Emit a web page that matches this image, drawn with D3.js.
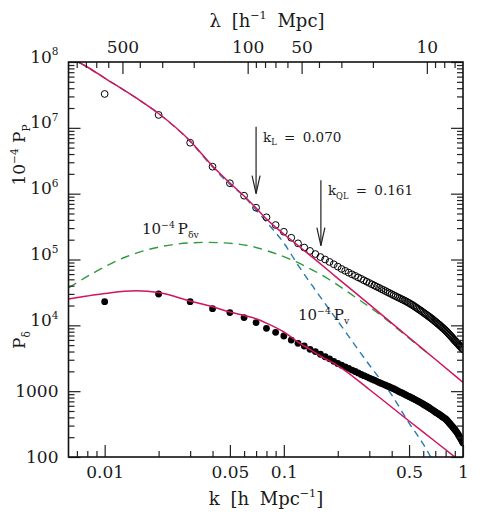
<!DOCTYPE html>
<html>
<head>
<meta charset="utf-8">
<script src="https://cdn.jsdelivr.net/npm/d3@7"></script>
<style>
  body { margin: 0; background: #fff; }
  svg { display: block; }
  text { font-family: "DejaVu Serif", serif; fill: #1a1a1a; }
</style>
</head>
<body>
<div id="chart"></div>
<script>
// measured k grid (h/Mpc)
var kGrid = [0.01,0.02,0.03,0.04,0.05,0.06,0.07,0.08,0.09,0.10,
  0.11,0.12,0.13,0.14,0.15,0.16,0.17,0.18,0.19,0.20,
  0.21,0.22,0.23,0.24,0.25,0.26,0.27,0.28,0.29,0.30,
  0.31,0.32,0.33,0.34,0.35,0.36,0.37,0.38,0.39,0.40,
  0.41,0.42,0.43,0.44,0.45,0.46,0.47,0.48,0.49,0.50,
  0.51,0.52,0.53,0.54,0.55,0.56,0.57,0.58,0.59,0.60,
  0.61,0.62,0.63,0.64,0.65,0.66,0.67,0.68,0.69,0.70,
  0.71,0.72,0.73,0.74,0.75,0.76,0.77,0.78,0.79,0.80,
  0.81,0.82,0.83,0.84,0.85,0.86,0.87,0.88,0.89,0.90,
  0.91,0.92,0.93,0.94,0.95,0.96,0.97,0.98,0.99,1.00];

// 10^-4 P_P (open circles)
var pMomentum = [3.27e7,1.57e7,5.94e6,2.57e6,1.44e6,9.31e5,6.12e5,4.38e5,3.34e5,2.64e5,
  2.14e5,1.76e5,1.52e5,1.35e5,1.21e5,1.09e5,1.00e5,9.18e4,8.47e4,7.80e4,
  7.19e4,6.73e4,6.32e4,5.96e4,5.65e4,5.35e4,5.09e4,4.83e4,4.60e4,4.40e4,
  4.20e4,4.03e4,3.86e4,3.72e4,3.56e4,3.44e4,3.31e4,3.18e4,3.08e4,2.97e4,
  2.87e4,2.78e4,2.69e4,2.61e4,2.53e4,2.46e4,2.39e4,2.32e4,2.25e4,2.18e4,
  2.11e4,2.05e4,1.98e4,1.91e4,1.85e4,1.79e4,1.73e4,1.68e4,1.62e4,1.57e4,
  1.52e4,1.47e4,1.43e4,1.38e4,1.34e4,1.30e4,1.26e4,1.22e4,1.18e4,1.14e4,
  1.11e4,1.07e4,1.04e4,1.01e4,9770,9460,9160,8890,8610,8340,
  8050,7780,7500,7240,7000,6760,6530,6300,6080,5870,
  5690,5520,5350,5190,5020,4860,4720,4570,4440,4300];

// P_delta (filled circles)
var pDensity = [2.29e4,2.99e4,2.29e4,1.79e4,1.56e4,1.31e4,1.10e4,9010,7830,6890,
  5980,5330,4850,4320,4000,3640,3330,3100,2840,2640,
  2480,2340,2220,2090,1990,1890,1790,1720,1650,1580,
  1520,1470,1410,1360,1310,1270,1230,1190,1160,1120,
  1090,1050,1020,984,957,931,902,877,849,830,
  807,787,766,745,726,706,689,670,653,635,
  618,601,586,570,555,540,526,512,498,484,
  472,460,450,439,428,417,406,397,387,378,
  365,352,339,327,315,303,292,281,271,261,
  251,241,231,220,210,200,191,181,172,163];

// model curves
var modelMomK = [0.00628,0.008,0.01,0.015,0.02,0.03,0.04,0.05,0.06,0.07,0.08,0.1,0.12,0.15,0.2,0.3,0.5,0.7,1.0];
var modelMomP = [1.19e8,8.40e7,5.71e7,2.84e7,1.65e7,6.31e6,2.63e6,1.45e6,9.21e5,6.05e5,4.12e5,2.44e5,1.63e5,9.93e4,5.18e4,2.08e4,6530,3050,1360];

var modelDenK = [0.00628,0.008,0.01,0.015,0.02,0.03,0.04,0.05,0.06,0.07,0.08,0.1,0.12,0.14,0.16,0.2,0.3,0.5,0.7,1.0];
var modelDenP = [2.51e4,2.79e4,3.04e4,3.34e4,3.15e4,2.34e4,1.92e4,1.59e4,1.41e4,1.26e4,1.08e4,7920,5580,4300,3420,2450,1060,352,172,80];

var velK = [0.00628,0.008,0.01,0.015,0.02,0.03,0.04,0.05,0.06,0.07,0.08,0.1,0.12,0.15,0.2,0.3,0.4,0.5,0.6,0.68];
var velP = [1.19e8,8.40e7,5.71e7,2.84e7,1.65e7,6.2e6,2.54e6,1.38e6,9.06e5,5.65e5,3.71e5,1.78e5,8.24e4,3.44e4,1.16e4,2500,875,328,157,87];

var crossK = [0.00628,0.0087,0.0132,0.0204,0.0313,0.037,0.0441,0.0677,0.0838,0.111,0.181,0.25,0.358,0.475,0.638];
var crossP = [3.69e4,6.30e4,1.10e5,1.56e5,1.80e5,1.82e5,1.80e5,1.56e5,1.31e5,9.82e4,4.88e4,2.69e4,1.34e4,7130,3730];

// arrows: scale marks
var arrowK = [0.070, 0.161];
var arrowTop = [1.04e7, 1.6e6];
var arrowTip = [1.0e6, 1.62e5];
var arrowSub = ["L", "QL"];

var yMajor = [100, 1000, 1e4, 1e5, 1e6, 1e7, 1e8];
var kMajor = [0.01, 0.05, 0.1, 0.5, 1];
var kMinor = [0.007,0.008,0.009,0.02,0.03,0.04,0.06,0.07,0.08,0.09,0.2,0.3,0.4,0.6,0.7,0.8,0.9];
var lamMajor = [500, 100, 50, 10];
var lamMinor = [900,800,700,600,400,300,200,90,80,70,60,40,30,20,9,8,7];

var W = 480, H = 515;
var X0 = 68.5, X1 = 463, Y0 = 62, Y1 = 457;
var RED = "#d0145f", BLUE = "#2b7bb0", GREEN = "#2f9a3c";

var svg = d3.select("#chart").append("svg").attr("width", W).attr("height", H);

var x = d3.scaleLog().domain([2 * Math.PI / 1000, 1]).range([X0, X1]);
var lam = d3.scaleLog().domain([1000, 2 * Math.PI]).range([X0, X1]);
var y = d3.scaleLog().domain([100, 1e8]).range([Y1, Y0]);

var yMinor = [];
yMajor.slice(0, -1).forEach(function(d) {
  for (var m = 2; m < 10; m++) yMinor.push(d * m);
});

// superscript / subscript helper
function rich(sel, parts, size) {
  var off = 0;
  parts.forEach(function(p) {
    var target = p[1] === "sup" ? -0.42 * size : p[1] === "sub" ? 0.28 * size : 0;
    var ts = sel.append("tspan").attr("dy", target - off).text(p[0]);
    if (p[1]) ts.attr("font-size", size * 0.62);
    off = target;
  });
}

svg.append("clipPath").attr("id", "clip")
  .append("rect").attr("x", X0).attr("y", Y0).attr("width", X1 - X0).attr("height", Y1 - Y0);

var plot = svg.append("g").attr("clip-path", "url(#clip)");

var line = d3.line()
  .x(function(d) { return x(d[0]); })
  .y(function(d) { return y(d[1]); })
  .curve(d3.curveMonotoneX);

function zip(a, b) { return a.map(function(v, i) { return [v, b[i]]; }); }

plot.append("path").datum(zip(crossK, crossP))
  .attr("d", line).attr("fill", "none").attr("stroke", GREEN)
  .attr("stroke-width", 1.4).attr("stroke-dasharray", "9,6");

plot.append("path").datum(zip(velK, velP))
  .attr("d", line).attr("fill", "none").attr("stroke", BLUE)
  .attr("stroke-width", 1.4).attr("stroke-dasharray", "7,5");

plot.selectAll("circle.den").data(zip(kGrid, pDensity)).enter()
  .append("circle").attr("class", "den")
  .attr("cx", function(d) { return x(d[0]); })
  .attr("cy", function(d) { return y(d[1]); })
  .attr("r", 3.4).attr("fill", "#000");

plot.selectAll("circle.mom").data(zip(kGrid, pMomentum)).enter()
  .append("circle").attr("class", "mom")
  .attr("cx", function(d) { return x(d[0]); })
  .attr("cy", function(d) { return y(d[1]); })
  .attr("r", 3.4).attr("fill", "none").attr("stroke", "#000").attr("stroke-width", 1);

plot.append("path").datum(zip(modelMomK, modelMomP))
  .attr("d", line).attr("fill", "none").attr("stroke", RED).attr("stroke-width", 1.5);

plot.append("path").datum(zip(modelDenK, modelDenP))
  .attr("d", line).attr("fill", "none").attr("stroke", RED).attr("stroke-width", 1.5);

// axes (ticks point inward on all four sides)
function styleAxis(g) {
  g.select(".domain").remove();
  g.selectAll(".tick line").attr("stroke", "#222").attr("stroke-width", 1.2);
  g.selectAll("text").attr("font-family", "DejaVu Serif").attr("font-size", 17).attr("fill", "#1a1a1a");
}

svg.append("g").attr("transform", "translate(0," + Y1 + ")")
  .call(d3.axisBottom(x).tickValues(kMajor).tickSize(-12).tickPadding(9)
    .tickFormat(function(d) { return String(d); }))
  .call(styleAxis);
svg.append("g").attr("transform", "translate(0," + Y1 + ")")
  .call(d3.axisBottom(x).tickValues(kMinor).tickSize(-6).tickFormat(""))
  .call(styleAxis);

svg.append("g").attr("transform", "translate(0," + Y0 + ")")
  .call(d3.axisTop(lam).tickValues(lamMajor).tickSize(-12).tickPadding(9)
    .tickFormat(function(d) { return String(d); }))
  .call(styleAxis);
svg.append("g").attr("transform", "translate(0," + Y0 + ")")
  .call(d3.axisTop(lam).tickValues(lamMinor).tickSize(-6).tickFormat(""))
  .call(styleAxis);

var leftMajor = svg.append("g").attr("transform", "translate(" + X0 + ",0)")
  .call(d3.axisLeft(y).tickValues(yMajor).tickSize(-12).tickPadding(10).tickFormat(""))
  .call(styleAxis);
leftMajor.selectAll(".tick text").each(function(d) {
  var t = d3.select(this);
  var e = Math.round(Math.log10(d));
  if (e <= 3) t.text(String(d));
  else rich(t, [["10", null], [String(e), "sup"]], 17);
});
svg.append("g").attr("transform", "translate(" + X0 + ",0)")
  .call(d3.axisLeft(y).tickValues(yMinor).tickSize(-6).tickFormat(""))
  .call(styleAxis);
svg.append("g").attr("transform", "translate(" + X1 + ",0)")
  .call(d3.axisRight(y).tickValues(yMajor).tickSize(-12).tickFormat(""))
  .call(styleAxis);
svg.append("g").attr("transform", "translate(" + X1 + ",0)")
  .call(d3.axisRight(y).tickValues(yMinor).tickSize(-6).tickFormat(""))
  .call(styleAxis);

svg.append("rect").attr("x", X0).attr("y", Y0).attr("width", X1 - X0).attr("height", Y1 - Y0)
  .attr("fill", "none").attr("stroke", "#111").attr("stroke-width", 1.6);

// arrows for k_L and k_QL
arrowK.forEach(function(k, i) {
  var ax = x(k), yt = y(arrowTop[i]), yb = y(arrowTip[i]);
  var g = svg.append("g").attr("stroke", "#222").attr("stroke-width", 1.2).attr("fill", "none");
  g.append("line").attr("x1", ax).attr("x2", ax).attr("y1", yt).attr("y2", yb);
  g.append("path").attr("d", "M" + (ax - 4) + "," + (yb - 18) + "L" + ax + "," + yb + "L" + (ax + 4) + "," + (yb - 18));
  var t = svg.append("text").attr("x", ax + 7).attr("y", yt + 15).attr("font-size", 13.5)
    .style("word-spacing", "3px");
  rich(t, [["k", null], [arrowSub[i], "sub"], [" = " + k.toFixed(3), null]], 13.5);
});

// curve labels
var t1 = svg.append("text").attr("x", 142).attr("y", 234).attr("font-size", 15);
rich(t1, [["10", null], ["\u22124", "sup"], ["\u2009P", null], ["\u03b4v", "sub"]], 15);
var t2 = svg.append("text").attr("x", 298).attr("y", 320).attr("font-size", 15);
rich(t2, [["10", null], ["\u22124", "sup"], ["\u2009P", null], ["v", "sub"]], 15);

// axis titles
var tt = svg.append("text").attr("x", 267).attr("y", 27).attr("text-anchor", "middle")
  .attr("font-size", 18).style("word-spacing", "5px");
rich(tt, [["\u03bb [h", null], ["\u22121", "sup"], [" Mpc]", null]], 18);

var bt = svg.append("text").attr("x", 266).attr("y", 505).attr("text-anchor", "middle")
  .attr("font-size", 18).style("word-spacing", "5px");
rich(bt, [["k [h Mpc", null], ["\u22121", "sup"], ["]", null]], 18);

var yl1 = svg.append("text").attr("transform", "translate(25,155) rotate(-90)")
  .attr("text-anchor", "middle").attr("font-size", 17);
rich(yl1, [["10", null], ["\u22124", "sup"], [" P", null], ["P", "sub"]], 17);

var yl2 = svg.append("text").attr("transform", "translate(25,340) rotate(-90)")
  .attr("text-anchor", "middle").attr("font-size", 17);
rich(yl2, [["P", null], ["\u03b4", "sub"]], 17);
</script>
</body>
</html>
